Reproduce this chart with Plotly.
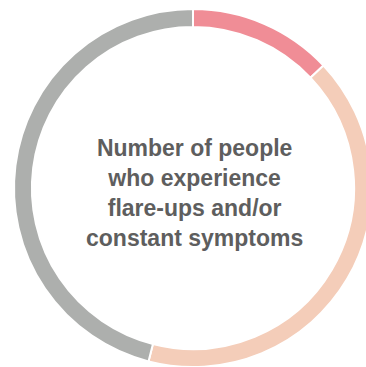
import plotly.graph_objects as go

# Share of people by symptom pattern (percent)
groups = ["Flare-ups only", "Constant symptoms only", "Both"]
shares = [13, 41, 46]
colors = ["#F08D96", "#F4CDB9", "#ADAFAD"]
center_text = "Number of people<br>who experience<br>flare-ups and/or<br>constant symptoms"

W, H = 372, 367

fig = go.Figure(
    go.Pie(
        labels=groups,
        values=shares,
        sort=False,
        direction="clockwise",
        rotation=0,
        hole=0.9,
        marker=dict(colors=colors, line=dict(color="white", width=2)),
        textinfo="none",
        hoverinfo="label+percent",
        domain=dict(x=[14 / W, 1], y=[0, (H - 9) / H]),
        showlegend=False,
    )
)

fig.add_annotation(
    text=center_text,
    x=194 / W,
    y=(H - 193) / H,
    xref="paper",
    yref="paper",
    showarrow=False,
    align="center",
    font=dict(family="Liberation Sans, Arial, sans-serif", size=23, color="#5E5E5E", weight="bold"),
)

fig.update_layout(
    width=W,
    height=H,
    margin=dict(l=0, r=0, t=0, b=0),
    paper_bgcolor="white",
    plot_bgcolor="white",
)

fig.write_html(
    "out.html",
    post_script="document.documentElement.style.overflow='hidden';document.body.style.overflow='hidden';document.body.style.margin='0';",
)
